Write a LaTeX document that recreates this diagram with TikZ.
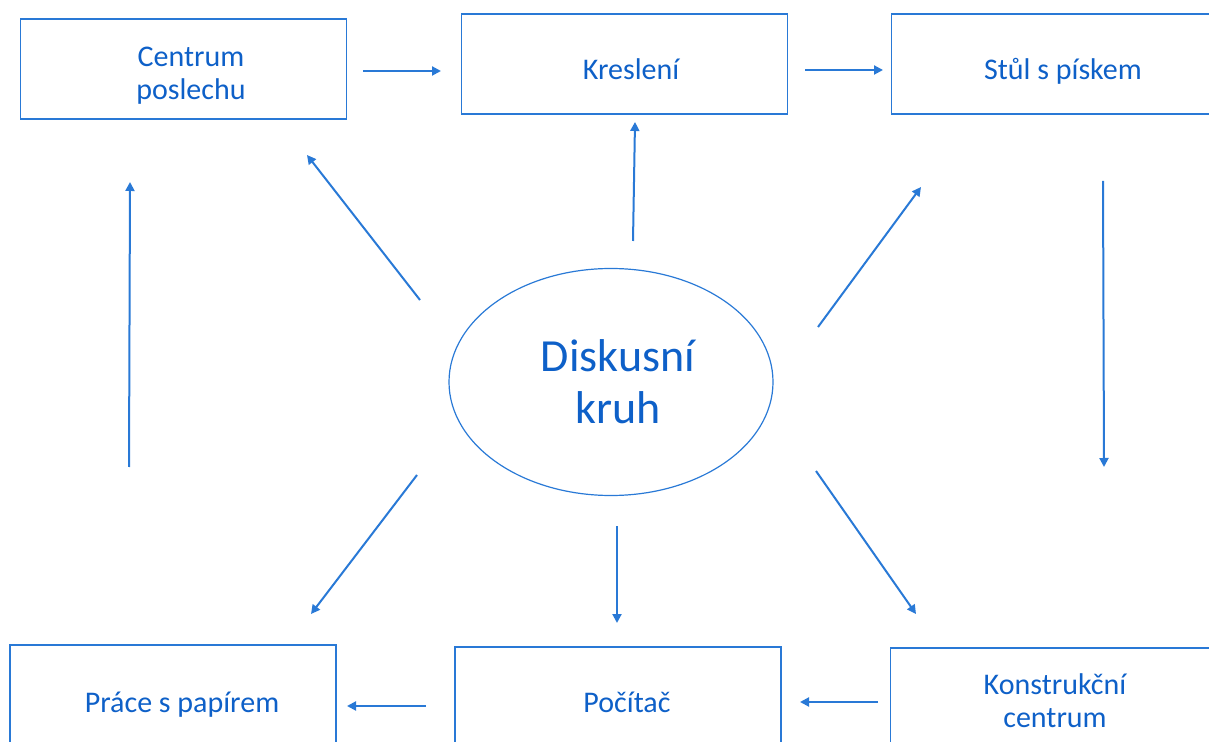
\documentclass[tikz,border=0pt]{standalone}
\usepackage{fontspec}
\setmainfont{Carlito}
\usepackage{xcolor}
\usepackage{tikz}
\usetikzlibrary{shapes,arrows,positioning,calc,arrows.meta}
\definecolor{stroke}{RGB}{41,121,214}
\definecolor{ink}{RGB}{14,96,200}

\begin{document}
\begin{tikzpicture}[x=0.5pt,y=-0.5pt,
    box/.style={draw=stroke, line width=0.75pt, rectangle, minimum width=163pt, minimum height=50pt, inner sep=0pt},
    txt/.style={text=ink, font=\fontsize{15}{16.5}\selectfont, align=center, inner sep=0pt},
    flow/.style={draw=stroke, line width=1pt, -{Triangle[length=4.5pt,width=4.5pt]}}]
    \useasboundingbox (0,0) rectangle (1209,742);
    \clip (0,0) rectangle (1209,742);

    % Top row
    \node[box] (cp) at (183.5,69) {};
    \node[box] (kr) at (624.5,64) {};
    \node[box] (st) at (1054.5,64) {};
    \node[txt] (cp-t) at (191,76) {Centrum\\poslechu};
    \node[txt, anchor=base] (kr-t) at (631,80) {Kreslení};
    \node[txt, anchor=base] (st-t) at (1063,80) {Stůl s pískem};

    % Bottom row (cut by the page edge)
    \node[box] (pr) at (173,695) {};
    \node[box] (po) at (618,697) {};
    \node[box] (ko) at (1053.5,698) {};
    \node[txt, anchor=base] (pr-t) at (182,712) {Práce s papírem};
    \node[txt, anchor=base] (po-t) at (627,712) {Počítač};
    \node[txt] (ko-t) at (1055,701) {Konstrukční\\centrum};

    % Centre
    \node[draw=stroke, line width=0.6pt, ellipse, minimum width=162pt, minimum height=113.5pt, inner sep=0pt] (dk) at (611,382) {};
    \node[txt, font=\fontsize{23}{26}\selectfont] (dk-t) at (618,382) {Diskusní\\kruh};

    % Arrow ends
    \coordinate (a1) at (363,71);   \coordinate (a2) at (441,71);
    \coordinate (b1) at (805,70);   \coordinate (b2) at (883,70);
    \coordinate (c1) at (1103,181); \coordinate (c2) at (1104,467);
    \coordinate (d1) at (878,702);  \coordinate (d2) at (800,702);
    \coordinate (e1) at (426,706);  \coordinate (e2) at (347,706);
    \coordinate (f1) at (129,467);  \coordinate (f2) at (130,182);
    \coordinate (g1) at (633,241);  \coordinate (g2) at (635,122);
    \coordinate (h1) at (420,300);  \coordinate (h2) at (307,155);
    \coordinate (i1) at (818,327);  \coordinate (i2) at (921,187);
    \coordinate (j1) at (417,475);  \coordinate (j2) at (311,614);
    \coordinate (k1) at (617,526);  \coordinate (k2) at (617,623);
    \coordinate (l1) at (816,471);  \coordinate (l2) at (916,614);

    % Ring of stations
    \draw[flow] (a1) -- (a2);
    \draw[flow] (b1) -- (b2);
    \draw[flow] (c1) -- (c2);
    \draw[flow] (d1) -- (d2);
    \draw[flow] (e1) -- (e2);
    \draw[flow] (f1) -- (f2);

    % From the circle outwards
    \foreach \s/\t in {g1/g2, h1/h2, i1/i2, j1/j2, k1/k2, l1/l2}
        \draw[flow] (\s) -- (\t);
\end{tikzpicture}
\end{document}
